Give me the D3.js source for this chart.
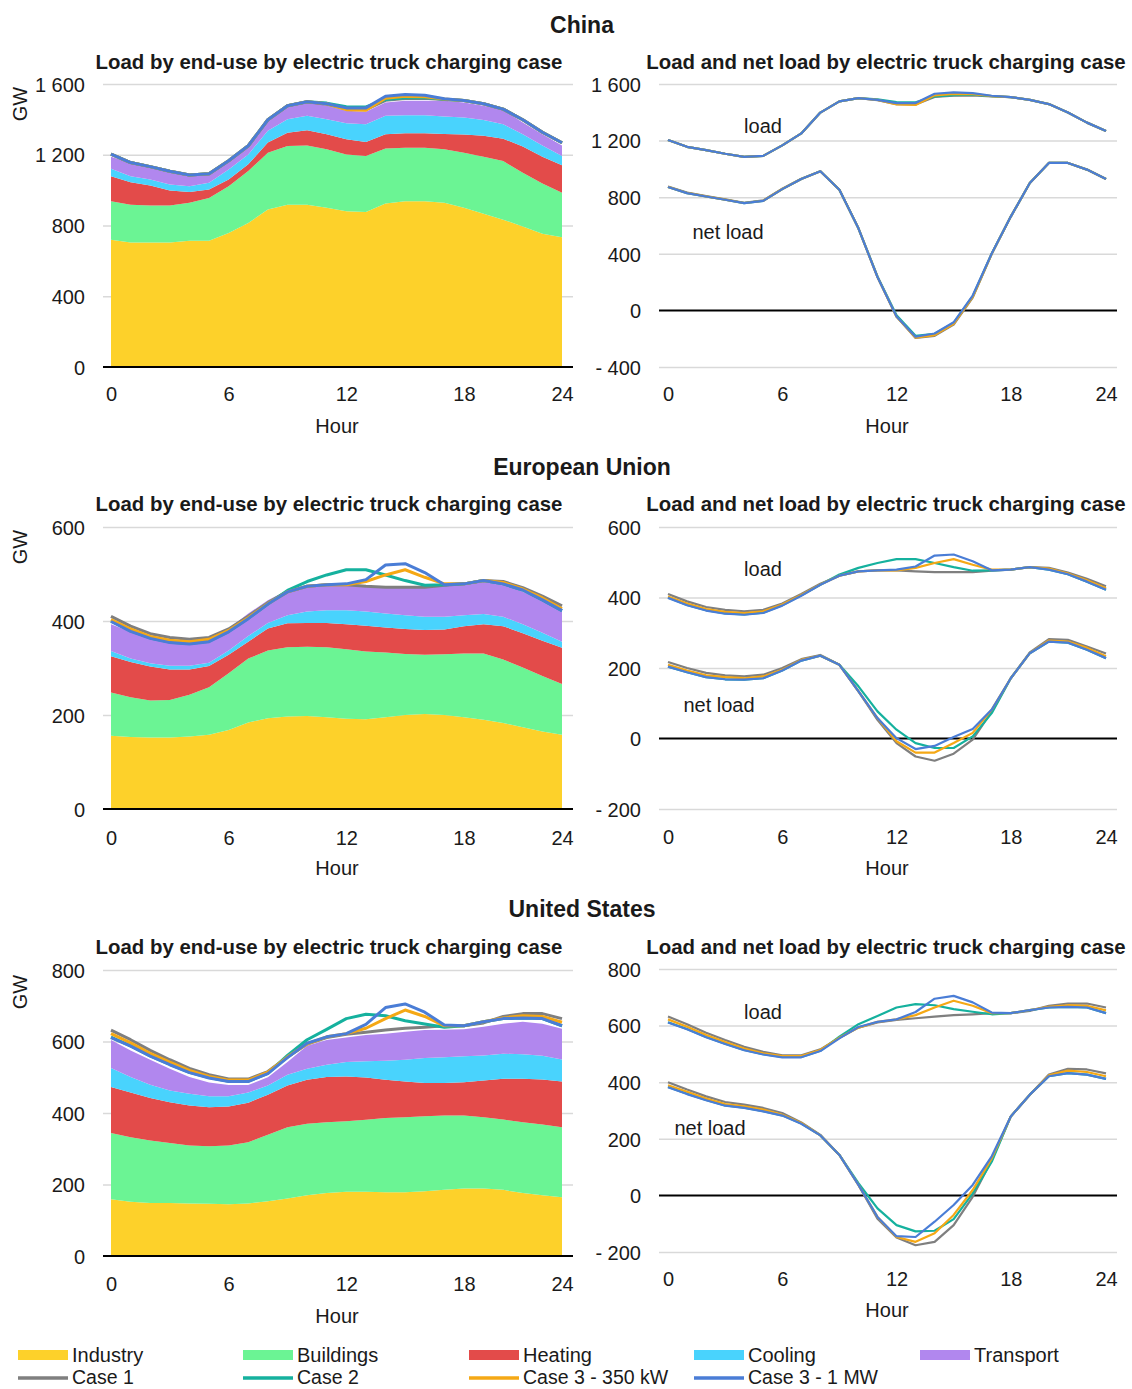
<!DOCTYPE html>
<html>
<head>
<meta charset="utf-8">
<script src="https://cdn.jsdelivr.net/npm/d3@7"></script>
<style>
  html, body { margin: 0; padding: 0; background: #fff; }
  svg { display: block; font-family: "Liberation Sans", Arial, sans-serif; }
</style>
</head>
<body>
<svg id="chart" width="1132" height="1389"></svg>
<script>
// ---------------- DATA ----------------
const hours = [0,1,2,3,4,5,6,7,8,9,10,11,12,13,14,15,16,17,18,19,20,21,22,23];
const xTickPos = [0, 6, 12, 18, 23];
const xTickText = ["0", "6", "12", "18", "24"];

const endUses = ["Industry", "Buildings", "Heating", "Cooling", "Transport"];
const endUseColors = ["#FDD12A", "#6BF494", "#E34B4A", "#49D3FD", "#B187EE"];
const cases = ["Case 1", "Case 2", "Case 3 - 350 kW", "Case 3 - 1 MW"];
const caseColors = ["#7F7F7F", "#15B19E", "#F5A815", "#4A7DD6"];

// China
const cnIndustry  = [720,704,704,704,714,714,757,814,890,918,918,900,880,877,924,937,937,928,900,867,833,795,754,733];
const cnBuildings = [217,214,209,209,214,242,265,294,322,332,335,331,322,316,311,303,303,303,312,322,331,303,284,252];
const cnHeating   = [142,127,113,85,62,47,38,38,57,75,86,85,86,79,81,82,82,87,102,118,127,148,151,155];
const cnCooling   = [42,34,34,34,32,38,57,56,66,76,81,85,90,101,104,102,102,98,97,90,82,70,64,53];
const cnTransport = [68,76,72,66,61,52,47,44,57,72,80,76,71,70,76,81,81,89,85,80,81,66,63,60];
const cnLoadCase1  = [1204,1156,1133,1107,1085,1092,1166,1251,1398,1477,1500,1485,1458,1455,1508,1518,1520,1512,1507,1488,1458,1398,1327,1268];
const cnLoadCase2  = [1204,1156,1133,1107,1085,1092,1166,1251,1398,1477,1500,1492,1472,1470,1512,1522,1524,1514,1507,1488,1458,1398,1327,1268];
const cnLoadCase3a = [1204,1156,1133,1107,1085,1092,1166,1251,1398,1477,1500,1488,1455,1452,1520,1530,1528,1515,1507,1488,1458,1398,1327,1268];
const cnLoadCase3b = [1204,1156,1133,1107,1085,1092,1166,1251,1398,1477,1500,1488,1465,1465,1531,1541,1536,1517,1507,1488,1458,1398,1327,1268];
const cnNetCase1  = [875,832,808,785,761,777,860,930,983,853,580,236,-43,-195,-180,-100,90,400,663,900,1042,1042,995,929];
const cnNetCase2  = [872,829,805,782,758,774,857,929,983,853,580,240,-35,-180,-165,-88,100,402,663,900,1042,1042,995,929];
const cnNetCase3a = [873,830,806,783,759,775,858,929,983,853,580,236,-45,-192,-175,-95,95,400,663,900,1042,1042,995,929];
const cnNetCase3b = [872,829,805,782,758,774,857,929,983,853,580,236,-43,-186,-163,-84,105,402,663,900,1042,1042,995,929];

// European Union
const euIndustry  = [156,153,152,152,154,158,168,184,193,197,198,195,192,191,195,200,202,200,195,190,183,174,165,158];
const euBuildings = [92,85,79,80,89,101,121,136,144,147,147,149,148,144,138,130,126,129,136,141,135,127,118,108];
const euHeating   = [77,75,72,65,54,45,39,36,47,51,51,52,53,55,53,53,53,53,58,62,71,73,75,77];
const euCooling   = [11,7,7,8,8,7,9,12,12,17,24,27,30,30,30,29,28,27,23,22,20,19,17,13];
const euTransport = [57,57,56,55,53,52,47,48,48,54,53,53,53,54,55,59,62,65,68,68,71,69,69,67];
const euLoadCase1  = [410,389,373,365,361,365,383,410,439,462,474,477,477,474,472,472,472,476,479,486,484,471,453,432];
const euLoadCase2  = [400,379,364,355,352,357,378,406,436,465,484,498,509,509,498,486,476,477,479,486,479,466,445,422];
const euLoadCase3a = [403,383,367,359,356,361,380,407,437,462,474,477,477,484,498,509,493,479,479,486,482,468,449,426];
const euLoadCase3b = [399,378,363,354,351,356,377,405,436,462,474,477,479,488,519,522,503,477,479,486,479,466,445,422];
const euNetCase1  = [217,200,186,179,176,181,200,225,237,209,134,53,-13,-51,-63,-43,-3,77,171,244,282,280,261,241];
const euNetCase2  = [204,188,174,168,167,171,193,221,235,209,148,77,25,-13,-27,-27,6,72,171,242,275,272,252,228];
const euNetCase3a = [209,193,179,174,171,176,195,223,235,209,134,58,-8,-40,-40,-13,16,82,171,242,278,275,257,233];
const euNetCase3b = [204,188,174,168,167,171,193,221,235,209,134,58,1,-30,-21,4,27,82,171,242,275,272,252,228];

// United States
const usIndustry  = [159,152,148,148,147,146,145,147,153,161,170,176,180,180,178,178,181,185,189,189,185,176,170,164];
const usBuildings = [185,180,175,168,162,161,164,171,186,199,200,198,197,201,208,210,210,208,204,199,197,198,198,196];
const usHeating   = [129,125,119,114,112,109,109,111,112,117,123,127,125,118,107,100,93,91,93,103,114,122,126,128];
const usCooling   = [53,44,37,33,33,31,29,28,26,30,31,34,41,46,53,61,70,72,73,70,70,68,66,62];
const usTransport = [78,74,70,61,47,38,31,21,23,36,64,69,68,73,76,78,78,77,75,80,84,91,90,86];
const usLoadCase1  = [632,605,575,549,525,507,495,495,516,557,593,611,620,626,632,637,640,644,644,652,670,678,678,664];
const usLoadCase2  = [612,588,560,536,514,499,489,489,511,561,605,634,664,676,672,658,649,640,644,655,664,666,664,644];
const usLoadCase3a = [622,596,567,542,519,502,492,492,514,557,593,613,622,637,664,688,670,644,644,655,666,672,670,654];
const usLoadCase3b = [611,587,559,535,513,498,488,488,510,555,595,613,622,648,695,705,682,646,644,655,664,666,664,644];
const usNetCase1  = [400,374,350,330,321,309,291,258,214,143,37,-82,-149,-176,-164,-105,-5,125,279,356,427,447,445,431];
const usNetCase2  = [383,359,337,318,310,298,283,254,212,143,43,-46,-105,-127,-125,-84,7,119,279,356,421,432,427,412];
const usNetCase3a = [389,366,342,323,315,303,285,256,212,143,37,-76,-147,-164,-134,-69,19,131,279,356,424,441,436,421];
const usNetCase3b = [382,358,336,317,309,297,282,253,212,143,37,-76,-144,-147,-93,-34,37,138,279,356,421,432,427,412];

// Tick labels
const cnLeftTicks = [0, 400, 800, 1200, 1600];
const cnLeftTickLabels = ["0", "400", "800", "1 200", "1 600"];
const cnRightTicks = [-400, 0, 400, 800, 1200, 1600];
const cnRightTickLabels = ["- 400", "0", "400", "800", "1 200", "1 600"];
const euLeftTicks = [0, 200, 400, 600];
const euLeftTickLabels = ["0", "200", "400", "600"];
const euRightTicks = [-200, 0, 200, 400, 600];
const euRightTickLabels = ["- 200", "0", "200", "400", "600"];
const usLeftTicks = [0, 200, 400, 600, 800];
const usLeftTickLabels = ["0", "200", "400", "600", "800"];
const usRightTicks = [-200, 0, 200, 400, 600, 800];
const usRightTickLabels = ["- 200", "0", "200", "400", "600", "800"];

// ---------------- LAYOUT ----------------
const regions = [
  { title: "China", titleY: 25, subY: 62, gwY: 104,
    parts: [cnIndustry, cnBuildings, cnHeating, cnCooling, cnTransport],
    load: [cnLoadCase1, cnLoadCase2, cnLoadCase3a, cnLoadCase3b],
    net: [cnNetCase1, cnNetCase2, cnNetCase3a, cnNetCase3b],
    left: { top: 84, bottom: 367, domain: [0, 1600], ticks: cnLeftTicks, labels: cnLeftTickLabels, tickY: 394, hourY: 426 },
    right: { top: 84, bottom: 367, domain: [-400, 1600], ticks: cnRightTicks, labels: cnRightTickLabels, tickY: 394, hourY: 426 },
    loadLbl: [763, 126], netLbl: [728, 232] },
  { title: "European Union", titleY: 467, subY: 504, gwY: 547,
    parts: [euIndustry, euBuildings, euHeating, euCooling, euTransport],
    load: [euLoadCase1, euLoadCase2, euLoadCase3a, euLoadCase3b],
    net: [euNetCase1, euNetCase2, euNetCase3a, euNetCase3b],
    left: { top: 527, bottom: 809, domain: [0, 600], ticks: euLeftTicks, labels: euLeftTickLabels, tickY: 838, hourY: 868 },
    right: { top: 527, bottom: 809, domain: [-200, 600], ticks: euRightTicks, labels: euRightTickLabels, tickY: 837, hourY: 868 },
    loadLbl: [763, 569], netLbl: [719, 705] },
  { title: "United States", titleY: 909, subY: 947, gwY: 992,
    parts: [usIndustry, usBuildings, usHeating, usCooling, usTransport],
    load: [usLoadCase1, usLoadCase2, usLoadCase3a, usLoadCase3b],
    net: [usNetCase1, usNetCase2, usNetCase3a, usNetCase3b],
    left: { top: 970, bottom: 1256, domain: [0, 800], ticks: usLeftTicks, labels: usLeftTickLabels, tickY: 1284, hourY: 1316 },
    right: { top: 969, bottom: 1252, domain: [-200, 800], ticks: usRightTicks, labels: usRightTickLabels, tickY: 1279, hourY: 1310 },
    loadLbl: [763, 1012], netLbl: [710, 1128] }
];

const L = { x0: 111, x1: 562, g0: 103, g1: 573, labelX: 85, hourX: 337, subX: 329 };
const R = { x0: 668, x1: 1106, g0: 659, g1: 1117, labelX: 641, hourX: 887, subX: 886 };

const TEXT = "#1a1a1a";
const FS = 20;
const svg = d3.select("#chart");

const xL = d3.scaleLinear().domain([0, 23]).range([L.x0, L.x1]);
const xR = d3.scaleLinear().domain([0, 23]).range([R.x0, R.x1]);

function styleText(sel) {
  sel.attr("fill", TEXT).attr("font-size", FS).attr("font-family", '"Liberation Sans", Arial, sans-serif');
}

function drawAxes(g, x, y, P, spec) {
  const grid = g.append("g").attr("transform", `translate(${P.g0},0)`)
    .call(d3.axisLeft(y).tickValues(spec.ticks).tickSize(-(P.g1 - P.g0)).tickFormat(""));
  grid.select(".domain").remove();
  grid.selectAll("line").attr("stroke", "#d9d9d9").attr("stroke-width", 1.5);
  grid.selectAll(".tick").filter(d => d === 0).remove();
  const ya = g.append("g").attr("transform", `translate(${P.labelX},0)`)
    .call(d3.axisLeft(y).tickValues(spec.ticks).tickSize(0).tickPadding(0)
      .tickFormat((d, i) => spec.labels[i]));
  ya.select(".domain").remove();
  ya.selectAll("text").call(styleText).attr("dy", "0.36em");
  const xa = g.append("g").attr("transform", `translate(0,${spec.tickY})`)
    .call(d3.axisBottom(x).tickValues(xTickPos).tickSize(0).tickPadding(0)
      .tickFormat((d, i) => xTickText[i]));
  xa.select(".domain").remove();
  xa.selectAll("text").call(styleText).attr("y", 0).attr("dy", "0.36em");
  g.append("text").attr("x", P.hourX).attr("y", spec.hourY).attr("dy", "0.36em")
    .attr("text-anchor", "middle").call(styleText).text("Hour");
}

function drawZero(g, y, P) {
  g.append("line").attr("x1", P.g0).attr("x2", P.g1)
    .attr("y1", y(0)).attr("y2", y(0))
    .attr("stroke", "#000").attr("stroke-width", 2);
}

regions.forEach(reg => {
  const g = svg.append("g");
  g.append("text").attr("x", 582).attr("y", reg.titleY).attr("dy", "0.36em")
    .attr("text-anchor", "middle").attr("font-weight", "bold").call(styleText)
    .attr("font-size", 23).text(reg.title);
  g.append("text").attr("x", L.subX).attr("y", reg.subY).attr("dy", "0.36em")
    .attr("text-anchor", "middle").attr("font-weight", "bold").call(styleText)
    .attr("font-size", 20.4).text("Load by end-use by electric truck charging case");
  g.append("text").attr("x", R.subX).attr("y", reg.subY).attr("dy", "0.36em")
    .attr("text-anchor", "middle").attr("font-weight", "bold").call(styleText)
    .attr("font-size", 20.4).text("Load and net load by electric truck charging case");
  g.append("text").attr("transform", `translate(20,${reg.gwY}) rotate(-90)`)
    .attr("dy", "0.36em").attr("text-anchor", "middle").call(styleText).text("GW");

  // Left: stacked areas
  const yl = d3.scaleLinear().domain(reg.left.domain).range([reg.left.bottom, reg.left.top]);
  drawAxes(g, xL, yl, L, reg.left);
  const table = hours.map((h, i) => {
    const row = { hour: h };
    endUses.forEach((k, j) => { row[k] = reg.parts[j][i]; });
    return row;
  });
  const stacked = d3.stack().keys(endUses)(table);
  const area = d3.area().x(d => xL(d.data.hour)).y0(d => yl(d[0])).y1(d => yl(d[1]));
  g.append("g").selectAll("path").data(stacked).join("path")
    .attr("d", area).attr("fill", (d, i) => endUseColors[i]);
  drawZero(g, yl, L);
  const lineL = d3.line().x((d, i) => xL(hours[i])).y(d => yl(d));
  reg.load.forEach((s, k) => {
    g.append("path").attr("d", lineL(s)).attr("fill", "none")
      .attr("stroke", caseColors[k]).attr("stroke-width", 3).attr("stroke-linejoin", "round");
  });

  // Right: load and net load
  const yr = d3.scaleLinear().domain(reg.right.domain).range([reg.right.bottom, reg.right.top]);
  drawAxes(g, xR, yr, R, reg.right);
  drawZero(g, yr, R);
  const lineR = d3.line().x((d, i) => xR(hours[i])).y(d => yr(d));
  [reg.load, reg.net].forEach(group => {
    group.forEach((s, k) => {
      g.append("path").attr("d", lineR(s)).attr("fill", "none")
        .attr("stroke", caseColors[k]).attr("stroke-width", 2.2).attr("stroke-linejoin", "round");
    });
  });
  g.append("text").attr("x", reg.loadLbl[0]).attr("y", reg.loadLbl[1]).attr("dy", "0.36em")
    .attr("text-anchor", "middle").call(styleText).text("load");
  g.append("text").attr("x", reg.netLbl[0]).attr("y", reg.netLbl[1]).attr("dy", "0.36em")
    .attr("text-anchor", "middle").call(styleText).text("net load");
});

// ---------------- LEGEND ----------------
const legX = [18, 243, 469, 694, 920];
const leg = svg.append("g");
endUses.forEach((k, i) => {
  leg.append("rect").attr("x", legX[i]).attr("y", 1350).attr("width", 50).attr("height", 10)
    .attr("fill", endUseColors[i]);
  leg.append("text").attr("x", legX[i] + 54).attr("y", 1355).attr("dy", "0.36em")
    .call(styleText).text(k);
});
cases.forEach((k, i) => {
  leg.append("line").attr("x1", legX[i]).attr("x2", legX[i] + 50).attr("y1", 1378).attr("y2", 1378)
    .attr("stroke", caseColors[i]).attr("stroke-width", 3.5);
  leg.append("text").attr("x", legX[i] + 54).attr("y", 1377).attr("dy", "0.36em")
    .call(styleText).attr("font-size", 19.5).text(k);
});
</script>
</body>
</html>
